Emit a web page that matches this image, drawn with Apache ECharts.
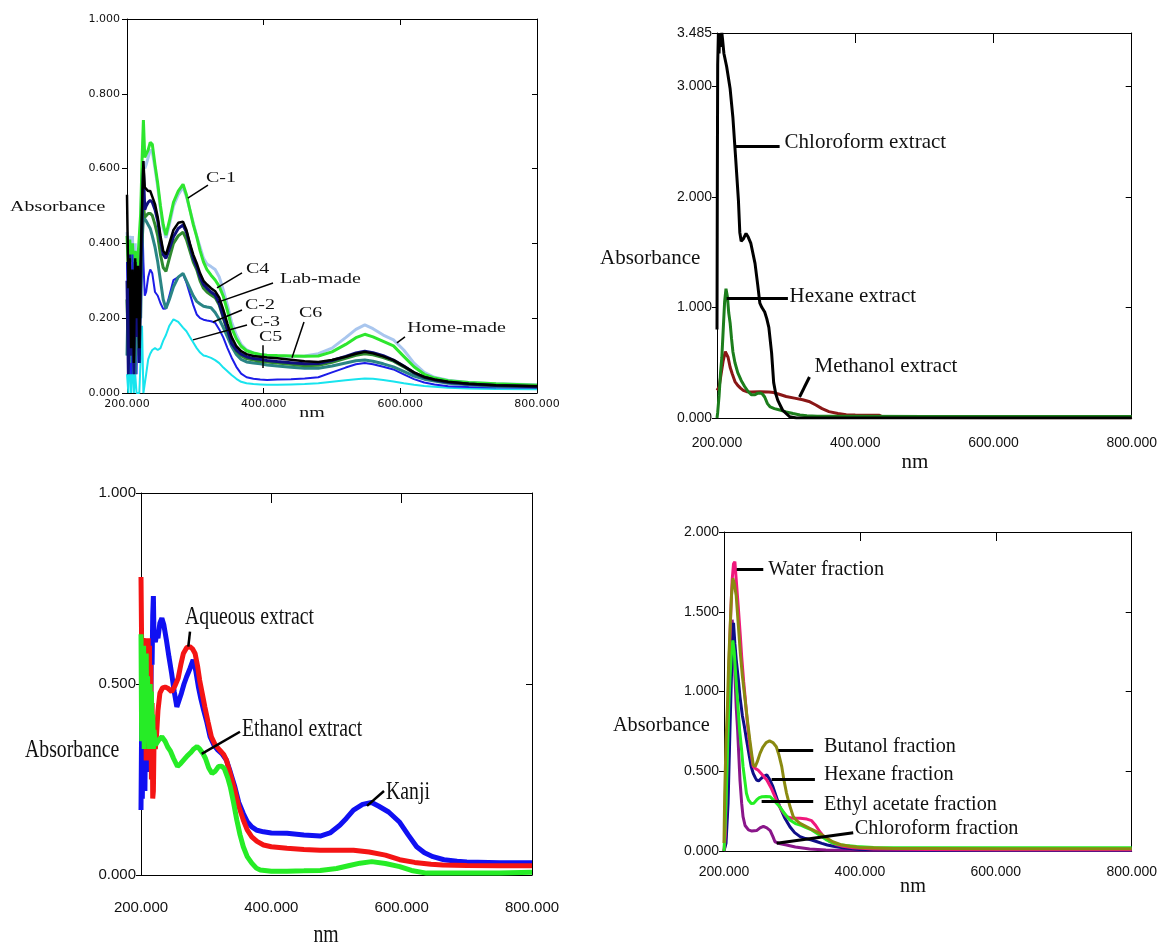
<!DOCTYPE html>
<html>
<head>
<meta charset="utf-8">
<script src="https://cdn.jsdelivr.net/npm/echarts@6/dist/echarts.min.js"></script>
<style>
  html, body { margin: 0; background: #fff; }
  #chart { width: 1160px; height: 944px; }
</style>
</head>
<body>
<div id="chart"></div>
<script>
// ---- panel 1 : commercial / home / lab made samples (shared wavelength grid) ----
const wl1 = [200,202,204,206,208,210,212,214,216,218,220,222,224,226,228,231,234,237,241,245,
  249,253,257,262,268,275,282,287,292,297,302,307,312,317,323,329,335,341,347,353,
  360,367,375,385,395,405,420,440,460,480,500,520,535,548,560,575,590,605,620,635,
  650,670,700,740,800];
const homeMade = [0.43,0.38,0.42,0.30,0.42,0.25,0.40,0.20,0.35,0.30, 0.45,0.58,0.62,0.60,0.61,0.63,0.65,0.645,0.60,0.55,
  0.49,0.44,0.415,0.45,0.50,0.53,0.55,0.525,0.49,0.455, 0.42,0.39,0.36,0.345,0.338,0.33,0.31,0.275,0.235,0.19,
  0.155,0.13,0.115,0.107,0.102,0.1,0.099,0.098,0.099,0.105, 0.12,0.148,0.17,0.182,0.172,0.155,0.142,0.115,0.08,0.055,
  0.042,0.034,0.028,0.025,0.022];
const c1 = [0.42,0.33,0.41,0.35,0.40,0.33,0.38,0.30,0.36,0.42, 0.48,0.62,0.73,0.63,0.63,0.65,0.67,0.665,0.61,0.56,
  0.50,0.45,0.422,0.46,0.51,0.54,0.558,0.53,0.49,0.45, 0.418,0.38,0.35,0.33,0.315,0.302,0.285,0.258,0.22,0.175,
  0.145,0.125,0.113,0.107,0.103,0.101,0.1,0.099,0.098,0.099, 0.11,0.13,0.148,0.157,0.15,0.138,0.126,0.098,0.07,0.05,
  0.04,0.033,0.028,0.025,0.021];
const c5 = [0.05,0.00,0.12,0.00,0.10,0.00,0.05,0.00,0.00,0.00, 0.00,0.18,0.00,0.00,0.05,0.09,0.105,0.115,0.12,0.115,
  0.12,0.14,0.155,0.18,0.197,0.19,0.175,0.165,0.15,0.135, 0.12,0.108,0.10,0.098,0.094,0.088,0.08,0.068,0.058,0.048,
  0.038,0.03,0.026,0.024,0.023,0.022,0.022,0.023,0.024,0.026, 0.03,0.034,0.037,0.039,0.038,0.035,0.031,0.026,0.022,0.019,
  0.017,0.014,0.012,0.011,0.01];
const c3 = [0.35,0.10,0.33,0.05,0.37,0.12,0.25,0.05,0.30,0.10, 0.25,0.50,0.35,0.26,0.27,0.31,0.33,0.32,0.27,0.26,
  0.24,0.225,0.226,0.26,0.302,0.31,0.318,0.295,0.265,0.235, 0.21,0.20,0.196,0.194,0.192,0.188,0.17,0.148,0.12,0.095,
  0.07,0.052,0.042,0.038,0.036,0.035,0.036,0.037,0.039,0.042, 0.055,0.068,0.077,0.08,0.077,0.07,0.063,0.05,0.037,0.028,
  0.023,0.018,0.016,0.015,0.014];
const c2 = [0.10,0.30,0.08,0.30,0.10,0.28,0.05,0.30,0.12,0.30, 0.20,0.40,0.47,0.465,0.46,0.45,0.44,0.42,0.39,0.35,
  0.30,0.25,0.226,0.25,0.284,0.31,0.32,0.30,0.28,0.26, 0.245,0.238,0.232,0.23,0.228,0.215,0.197,0.175,0.15,0.125,
  0.103,0.09,0.083,0.08,0.078,0.075,0.072,0.069,0.066,0.066, 0.072,0.08,0.086,0.088,0.085,0.078,0.07,0.058,0.045,0.037,
  0.032,0.026,0.022,0.018,0.016];
const c6 = [0.25,0.10,0.30,0.15,0.28,0.10,0.30,0.18,0.30,0.10, 0.32,0.42,0.50,0.47,0.475,0.48,0.48,0.475,0.45,0.42,
  0.37,0.335,0.325,0.36,0.40,0.42,0.43,0.41,0.38,0.35, 0.33,0.30,0.28,0.27,0.262,0.255,0.235,0.20,0.165,0.135,
  0.112,0.1,0.092,0.088,0.085,0.083,0.08,0.077,0.073,0.074, 0.082,0.093,0.101,0.105,0.102,0.095,0.085,0.07,0.053,0.041,
  0.034,0.028,0.024,0.02,0.018];
const labMade = [0.30,0.05,0.37,0.10,0.30,0.05,0.35,0.15,0.30,0.08, 0.30,0.45,0.60,0.49,0.50,0.51,0.515,0.51,0.49,0.46,
  0.41,0.37,0.36,0.385,0.418,0.44,0.449,0.43,0.395,0.36, 0.338,0.31,0.29,0.28,0.27,0.262,0.24,0.204,0.17,0.133,
  0.115,0.104,0.097,0.092,0.09,0.087,0.084,0.081,0.078,0.079, 0.087,0.098,0.107,0.112,0.108,0.1,0.088,0.072,0.054,0.042,
  0.035,0.029,0.024,0.02,0.017];
const c4 = [0.53,0.28,0.36,0.12,0.33,0.08,0.36,0.20,0.34,0.12, 0.35,0.50,0.62,0.55,0.545,0.54,0.54,0.525,0.505,0.47,
  0.42,0.38,0.37,0.40,0.436,0.455,0.458,0.436,0.40,0.37, 0.347,0.32,0.30,0.29,0.28,0.272,0.255,0.222,0.185,0.15,
  0.125,0.112,0.104,0.099,0.097,0.095,0.093,0.089,0.085,0.083, 0.088,0.097,0.105,0.11,0.106,0.098,0.088,0.072,0.055,0.043,
  0.036,0.03,0.025,0.021,0.018];

// ---- panel 2 : extracts, [nm, absorbance] ----
const methanolExtract = [[200,0.25],[203,0.28],[206,0.4],[209,0.52],[212,0.6],[214,0.6],[216,0.55],[219,0.46],[222,0.4],
  [226,0.33],[230,0.295],[234,0.27],[238,0.25],[243,0.238],[250,0.235],[262,0.238],[275,0.235],[282,0.23],[290,0.215],
  [300,0.195],[312,0.18],[324,0.165],[333,0.15],[343,0.118],[352,0.085],[362,0.058],[375,0.04],[387,0.03],[400,0.027],
  [420,0.025],[435,0.024],[440,0.008],[500,0.005],[600,0.003],[800,0.003]];
const hexaneExtract = [[200,0],[201,0.05],[203,0.2],[205,0.4],[207,0.55],[209,0.8],[211,1.05],[213,1.17],[214,1.18],
  [215,1.1],[217,0.95],[219,0.86],[221,0.72],[223,0.6],[226,0.5],[230,0.41],[235,0.34],[240,0.285],[245,0.24],[250,0.21],
  [255,0.21],[259,0.225],[263,0.226],[266,0.215],[269,0.19],[273,0.13],[277,0.1],[283,0.085],[291,0.072],[300,0.055],
  [310,0.04],[320,0.028],[330,0.02],[345,0.016],[400,0.015],[500,0.014],[600,0.014],[700,0.014],[800,0.014]];
const chloroformExtract = [[200,0.8],[200.5,2.2],[201,3.2],[202,3.485],[203,3.3],[204,3.485],[205,3.36],[207,3.485],
  [208,3.43],[210,3.3],[214,3.18],[219,2.98],[223,2.72],[227,2.35],[231,1.97],[233,1.68],[235,1.6],[238,1.62],[242,1.67],
  [245,1.64],[249,1.58],[255,1.4],[259,1.2],[262,1.04],[265,1.0],[269,0.96],[272,0.9],[275,0.82],[279,0.59],[282,0.32],
  [285,0.22],[288,0.16],[295,0.07],[305,0.012],[315,0],[800,0]];

// ---- panel 3 : Kanji and extracts ----
const kanji = [[200,0.17],[201,0.4],[202,0.2],[203,0.32],[204,0.25],[205,0.43],[206,0.22],[207,0.38],[208,0.28],[209,0.45],
  [210,0.3],[211,0.36],[212,0.27],[213,0.42],[214,0.33],[215,0.45],[216,0.6],[217,0.55],[218,0.68],[219,0.73],[220,0.62],
  [222,0.61],[224,0.63],[226,0.62],[229,0.66],[232,0.672],[235,0.655],[239,0.615],[243,0.57],[247,0.528],[251,0.48],
  [255,0.44],[258,0.445],[262,0.476],[266,0.5],[270,0.519],[275,0.54],[280,0.563],[284,0.535],[288,0.493],[292,0.46],
  [296,0.432],[301,0.4],[306,0.362],[312,0.34],[318,0.327],[324,0.318],[331,0.301],[337,0.27],[344,0.231],[350,0.19],
  [357,0.161],[363,0.14],[370,0.126],[378,0.117],[388,0.113],[400,0.11],[424,0.109],[450,0.105],[475,0.102],[490,0.11],
  [505,0.13],[515,0.148],[526,0.17],[540,0.185],[554,0.19],[565,0.18],[580,0.165],[597,0.138],[610,0.105],[623,0.074],
  [635,0.058],[648,0.048],[665,0.04],[685,0.036],[700,0.034],[750,0.032],[800,0.032]];
const aqueousExtract = [[200,0.78],[201,0.6],[202,0.55],[203,0.62],[204,0.5],[205,0.6],[206,0.52],[207,0.62],[208,0.3],
  [209,0.58],[210,0.45],[211,0.62],[212,0.35],[213,0.6],[214,0.3],[215,0.55],[216,0.25],[217,0.45],[218,0.2],[219,0.22],
  [220,0.35],[222,0.33],[224,0.37],[226,0.43],[229,0.476],[233,0.49],[237,0.492],[242,0.488],[247,0.48],[252,0.495],
  [257,0.515],[261,0.55],[265,0.58],[270,0.595],[275,0.598],[279,0.592],[283,0.58],[287,0.545],[290,0.51],[294,0.475],
  [298,0.44],[303,0.4],[308,0.362],[314,0.34],[321,0.327],[327,0.315],[331,0.301],[337,0.265],[344,0.222],[350,0.18],
  [357,0.144],[363,0.118],[370,0.1],[378,0.088],[388,0.0785],[400,0.074],[424,0.07],[450,0.067],[475,0.065],[500,0.065],
  [526,0.065],[550,0.06],[575,0.052],[597,0.04],[620,0.033],[645,0.028],[663,0.026],[700,0.025],[750,0.024],[800,0.024]];
const ethanolExtract = [[200,0.63],[201,0.35],[202,0.55],[203,0.4],[204,0.6],[205,0.33],[206,0.5],[207,0.38],[208,0.58],
  [209,0.35],[210,0.52],[211,0.4],[212,0.45],[213,0.33],[214,0.5],[215,0.36],[216,0.48],[217,0.34],[218,0.42],[219,0.33],
  [220,0.38],[222,0.34],[224,0.345],[228,0.355],[232,0.362],[237,0.35],[241,0.335],[245,0.325],[250,0.305],[256,0.284],
  [261,0.292],[266,0.302],[271,0.312],[276,0.32],[281,0.33],[286,0.336],[290,0.33],[295,0.318],[299,0.305],[304,0.28],
  [309,0.266],[314,0.272],[319,0.284],[324,0.285],[328,0.278],[333,0.255],[337,0.231],[342,0.19],[347,0.144],[352,0.105],
  [357,0.074],[363,0.048],[370,0.031],[377,0.018],[383,0.013],[400,0.01],[424,0.01],[450,0.011],[475,0.012],[500,0.017],
  [520,0.025],[536,0.031],[554,0.035],[575,0.03],[597,0.022],[615,0.012],[638,0.005],[700,0.005],[750,0.005],[800,0.007]];

// ---- panel 4 : fractions ----
const chloroformFraction = [[200,0],[202,0.05],[205,0.3],[208,0.8],[210,1.2],[212,1.45],[214,1.35],[216,1.1],[218,0.9],
  [220,0.76],[222,0.58],[223.5,0.445],[226,0.3],[228,0.215],[231,0.16],[236,0.132],[241,0.125],[248,0.128],[253,0.145],
  [258,0.155],[263,0.145],[268,0.128],[272,0.09],[275,0.058],[283,0.045],[292,0.038],[305,0.025],[326,0.012],[350,0.007],
  [400,0.004],[500,0.003],[800,0.003]];
const hexaneFraction = [[200,0],[203,0.05],[206,0.3],[209,0.8],[211,1.1],[213,1.4],[214,1.43],[216,1.3],[218,1.2],[221,1.08],
  [223.5,0.968],[227,0.85],[230,0.78],[233,0.7],[237,0.6],[240,0.53],[243,0.487],[246,0.46],[248,0.445],[251,0.44],
  [255,0.456],[259,0.47],[263,0.477],[267,0.45],[272,0.403],[277,0.34],[282,0.278],[289,0.21],[297,0.152],[304,0.115],
  [312,0.09],[320,0.078],[329,0.069],[337,0.058],[344,0.048],[352,0.038],[361,0.03],[375,0.02],[400,0.01],[450,0.006],
  [500,0.005],[600,0.004],[700,0.004],[800,0.004]];
const waterFraction = [[200,0],[202,0.1],[204,0.5],[206,0.9],[208,1.25],[210,1.5],[212,1.7],[214,1.8],[216,1.814],[218,1.7],
  [221,1.53],[224,1.35],[226,1.22],[229,1.06],[231,0.968],[234,0.82],[236,0.738],[239,0.63],[243,0.529],[247,0.515],
  [250,0.508],[256,0.48],[263,0.445],[270,0.39],[277,0.32],[284,0.26],[292,0.215],[300,0.205],[312,0.205],[322,0.2],
  [329,0.19],[335,0.16],[341,0.121],[348,0.085],[356,0.058],[365,0.04],[375,0.03],[390,0.02],[420,0.012],[500,0.01],
  [600,0.008],[700,0.008],[800,0.008]];
const ethylAcetateFraction = [[200,0],[201,0.1],[203,0.3],[205,0.6],[207,0.9],[209,1.1],[211,1.25],[213,1.32],[215,1.25],
  [217,1.12],[219,1.0],[221,0.88],[223,0.76],[226,0.63],[228,0.53],[231,0.43],[233,0.362],[236,0.32],[240,0.298],[244,0.3],
  [248,0.32],[252,0.335],[256,0.34],[262,0.342],[268,0.34],[275,0.31],[282,0.278],[290,0.23],[297,0.194],[305,0.172],
  [312,0.163],[320,0.148],[329,0.132],[337,0.11],[344,0.09],[351,0.069],[360,0.05],[370,0.04],[380,0.035],[395,0.028],
  [420,0.022],[500,0.02],[600,0.02],[700,0.02],[800,0.02]];
const butanolFraction = [[200,0.05],[201,0.35],[203,0.69],[205,0.9],[207,1.2],[209,1.4],[211,1.6],[213,1.71],[215,1.68],
  [218,1.6],[221,1.42],[224,1.24],[227,1.1],[231,0.95],[235,0.8],[238,0.696],[241,0.6],[243,0.54],[246,0.53],[249,0.56],
  [253,0.612],[257,0.65],[262,0.68],[267,0.69],[272,0.68],[277,0.654],[281,0.6],[285,0.529],[288,0.45],[292,0.363],
  [297,0.28],[302,0.215],[307,0.19],[312,0.173],[319,0.158],[326,0.142],[333,0.128],[341,0.11],[350,0.085],[360,0.058],
  [372,0.04],[385,0.03],[400,0.022],[450,0.016],[500,0.015],[600,0.014],[700,0.014],[800,0.014]];

// tick values
const xTicks = [200, 400, 600, 800];
const yTicks1 = [0, 0.2, 0.4, 0.6, 0.8, 1.0];
const yTicks2 = [0, 1, 2, 3, 3.485];
const yTicks3 = [0, 0.5, 1.0];
const yTicks4 = [0, 0.5, 1.0, 1.5, 2.0];

// annotation text + leader line, in data units
const annot1 = [
  { text: 'C-1', from: [289, 0.521], to: [318.5, 0.556], at: [315.6, 0.575] },
  { text: 'C4', from: [331.7, 0.281], to: [368.3, 0.321], at: [374, 0.332] },
  { text: 'Lab-made', from: [333.2, 0.243], to: [413.7, 0.294], at: [424, 0.305] },
  { text: 'C-2', from: [325.9, 0.19], to: [368.3, 0.222], at: [372.7, 0.235] },
  { text: 'C-3', from: [296.6, 0.142], to: [375.6, 0.182], at: [380, 0.19] },
  { text: 'C5', from: [399, 0.128], to: [399, 0.067], at: [393, 0.15] },
  { text: 'C6', from: [459, 0.19], to: [441.5, 0.094], at: [451.7, 0.214] },
  { text: 'Home-made', from: [595, 0.134], to: [606.8, 0.15], at: [610, 0.174] }
];
const annot2 = [
  { text: 'Chloroform extract', from: [225.9, 2.462], to: [290.6, 2.462], at: [297.8, 2.49] },
  { text: 'Hexane extract', from: [214, 1.083], to: [302.6, 1.083], at: [305, 1.104] },
  { text: 'Methanol extract', from: [319.4, 0.19], to: [333.8, 0.371], at: [341, 0.462] }
];
const annot3 = [
  { text: 'Aqueous extract', from: [272.6, 0.598], to: [275.2, 0.637], at: [267.5, 0.675] },
  { text: 'Ethanol extract', from: [293.1, 0.317], to: [351.9, 0.375], at: [355, 0.382] },
  { text: 'Kanji', from: [546.8, 0.181], to: [572.9, 0.22], at: [576, 0.217] }
];
const annot4 = [
  { text: 'Water fraction', from: [218.7, 1.768], to: [257.8, 1.768], at: [265.1, 1.768] },
  { text: 'Butanol fraction', from: [279.9, 0.633], to: [331.3, 0.633], at: [347, 0.658] },
  { text: 'Hexane fraction', from: [270.1, 0.45], to: [333.8, 0.45], at: [347, 0.483] },
  { text: 'Ethyl acetate fraction', from: [255.4, 0.315], to: [331.3, 0.315], at: [347, 0.295] },
  { text: 'Chloroform fraction', from: [277.5, 0.048], to: [390.2, 0.115], at: [392.6, 0.144] }
];

const zip = (xs, ys) => xs.map((x, i) => [x, ys[i]]);

// layout and look of each panel
const panels = [
  {
    grid: { left: 127, top: 19, width: 410, height: 374 },
    yMax: 1, yInterval: 0.2, yTicks: yTicks1,
    tickFont: { fontFamily: 'DejaVu Sans', fontSize: 11 }, xMargin: 6, yMargin: 7,
    bottomTicks: true, sideTick: 5, topTick: 6,
    series: [
      ['Home-made', zip(wl1, homeMade), '#a9c6ee', 3],
      ['C-1', zip(wl1, c1), '#2ee62e', 3],
      ['C5', zip(wl1, c5), '#18e4ee', 2],
      ['C-3', zip(wl1, c3), '#1c1ce8', 2],
      ['C-2', zip(wl1, c2), '#2a8585', 3],
      ['C6', zip(wl1, c6), '#2f8a2f', 3],
      ['Lab-made', zip(wl1, labMade), '#10107e', 3],
      ['C4', zip(wl1, c4), '#000000', 2.5]
    ],
    annots: annot1, leaderWidth: 1.5,
    textFont: '15px "Liberation Serif"', textScale: 1.33,
    yTitle: [10, 207], xTitle: [312, 413]
  },
  {
    grid: { left: 717, top: 33, width: 417, height: 385 },
    yMax: 3.485, yInterval: 1, yTicks: yTicks2,
    tickFont: { fontFamily: 'Liberation Sans', fontSize: 14 }, xMargin: 18, yMargin: 5,
    bottomTicks: false, sideTick: 6, topTick: 10,
    series: [
      ['Methanol extract', methanolExtract, '#8a1616', 3],
      ['Hexane extract', hexaneExtract, '#1c7e1c', 3],
      ['Chloroform extract', chloroformExtract, '#000000', 3]
    ],
    annots: annot2, leaderWidth: 3,
    textFont: '21px "Liberation Serif"', textScale: 1,
    yTitle: [600, 258], xTitle: [915, 462]
  },
  {
    grid: { left: 141, top: 493, width: 391, height: 382 },
    yMax: 1, yInterval: 0.5, yTicks: yTicks3,
    tickFont: { fontFamily: 'Liberation Sans', fontSize: 15 }, xMargin: 25, yMargin: 5,
    bottomTicks: false, sideTick: 6, topTick: 10,
    series: [
      ['Kanji', kanji, '#1010f2', 5],
      ['Aqueous extract', aqueousExtract, '#f41414', 5],
      ['Ethanol extract', ethanolExtract, '#26ec26', 5]
    ],
    annots: annot3, leaderWidth: 2.5,
    textFont: '26px "Liberation Serif"', textScale: 0.76,
    yTitle: [25, 750], xTitle: [326, 935]
  },
  {
    grid: { left: 724, top: 532, width: 408, height: 319 },
    yMax: 2, yInterval: 0.5, yTicks: yTicks4,
    tickFont: { fontFamily: 'Liberation Sans', fontSize: 14 }, xMargin: 14, yMargin: 5,
    bottomTicks: false, sideTick: 6, topTick: 9,
    series: [
      ['Chloroform fraction', chloroformFraction, '#8a168a', 3],
      ['Hexane fraction', hexaneFraction, '#0e0e88', 3],
      ['Water fraction', waterFraction, '#f0187c', 3],
      ['Ethyl acetate fraction', ethylAcetateFraction, '#24ee24', 3],
      ['Butanol fraction', butanolFraction, '#8a8a10', 3]
    ],
    annots: annot4, leaderWidth: 3,
    textFont: '22px "Liberation Serif"', textScale: 0.92,
    yTitle: [613, 725], xTitle: [913, 886]
  }
];

const AXIS_LINE = { show: true, onZero: false, lineStyle: { color: '#000', width: 1 } };
const fmt = v => v.toFixed(3);

let grids = [], xAxes = [], yAxes = [], series = [];
panels.forEach((p, i) => {
  grids.push(Object.assign({ containLabel: false }, p.grid));
  const lbl = Object.assign({ color: '#111' }, p.tickFont);
  xAxes.push({
    type: 'value', gridIndex: i, position: 'bottom', min: 200, max: 800, interval: 200,
    axisLine: AXIS_LINE,
    axisTick: { show: p.bottomTicks, inside: true, length: 5, customValues: xTicks, lineStyle: { color: '#000' } },
    axisLabel: Object.assign({ margin: p.xMargin, formatter: fmt, customValues: xTicks }, lbl),
    splitLine: { show: false }
  });
  xAxes.push({
    type: 'value', gridIndex: i, position: 'top', min: 200, max: 800, interval: 200,
    axisLine: AXIS_LINE,
    axisTick: { show: true, inside: true, length: p.topTick, customValues: xTicks, lineStyle: { color: '#000' } },
    axisLabel: { show: false },
    splitLine: { show: false }
  });
  yAxes.push({
    type: 'value', gridIndex: i, position: 'left', min: 0, max: p.yMax, interval: p.yInterval,
    axisLine: AXIS_LINE,
    axisTick: { show: true, inside: false, length: 5, customValues: p.yTicks, lineStyle: { color: '#000' } },
    axisLabel: Object.assign({ margin: p.yMargin, formatter: fmt, customValues: p.yTicks }, lbl),
    splitLine: { show: false }
  });
  yAxes.push({
    type: 'value', gridIndex: i, position: 'right', min: 0, max: p.yMax, interval: p.yInterval,
    axisLine: AXIS_LINE,
    axisTick: { show: true, inside: true, length: p.sideTick, customValues: p.yTicks, lineStyle: { color: '#000' } },
    axisLabel: { show: false },
    splitLine: { show: false }
  });

  p.series.forEach(([name, data, color, width]) => {
    series.push({
      name: name, type: 'line', xAxisIndex: i * 2, yAxisIndex: i * 2,
      data: data, showSymbol: false, symbol: 'none', silent: true,
      lineStyle: { color: color, width: width }, itemStyle: { color: color }
    });
  });

  // leader lines
  series.push({
    type: 'line', xAxisIndex: i * 2, yAxisIndex: i * 2, data: [], silent: true, z: 5,
    markLine: {
      silent: true, symbol: ['none', 'none'], animation: false,
      label: { show: false },
      lineStyle: { color: '#000', width: p.leaderWidth, type: 'solid' },
      emphasis: { disabled: true },
      data: p.annots.map(a => [{ coord: a.from }, { coord: a.to }])
    }
  });
});

const chart = echarts.init(document.getElementById('chart'));
chart.setOption({
  backgroundColor: '#fff',
  animation: false,
  grid: grids,
  xAxis: xAxes,
  yAxis: yAxes,
  series: series
});

function textEl(text, x, y, font, scale, align) {
  return {
    type: 'text', x: x, y: y, scaleX: scale, scaleY: 1, silent: true, z: 20,
    style: { text: text, font: font, fill: '#111', textAlign: align, align: align,
      textVerticalAlign: 'middle', verticalAlign: 'middle' }
  };
}

let graphics = [];
panels.forEach((p, i) => {
  graphics.push(textEl('Absorbance', p.yTitle[0], p.yTitle[1], p.textFont, p.textScale, 'left'));
  graphics.push(textEl('nm', p.xTitle[0], p.xTitle[1], p.textFont, p.textScale, 'center'));
  p.annots.forEach(a => {
    const pt = chart.convertToPixel({ xAxisIndex: i * 2, yAxisIndex: i * 2 }, a.at);
    graphics.push(textEl(a.text, pt[0], pt[1], p.textFont, p.textScale, 'left'));
  });
});
chart.setOption({ graphic: graphics });
</script>
</body>
</html>
